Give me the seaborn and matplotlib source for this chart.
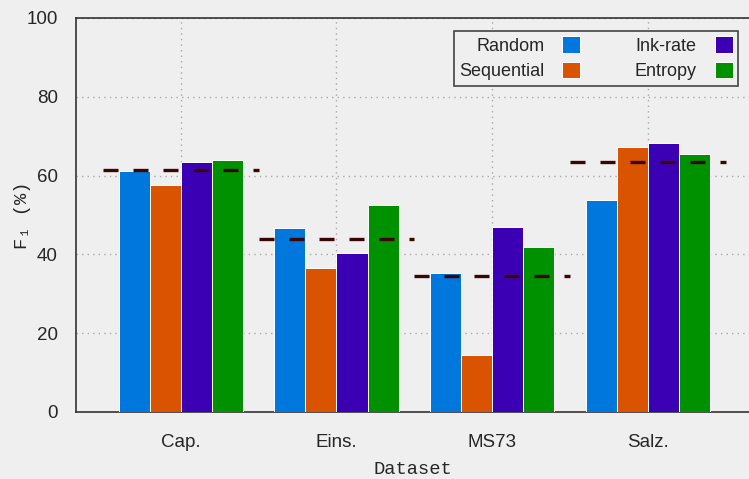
import numpy as np
import pandas as pd
import seaborn as sns
import matplotlib.pyplot as plt

datasets = ['Cap.', 'Eins.', 'MS73', 'Salz.']
methods = ['Random', 'Sequential', 'Ink-rate', 'Entropy']
random_f1 = [61.2, 46.7, 35.3, 53.8]
sequential_f1 = [57.6, 36.5, 14.5, 67.3]
inkrate_f1 = [63.5, 40.4, 47.0, 68.3]
entropy_f1 = [64.0, 52.5, 41.9, 65.5]
baseline_f1 = [61.4, 43.9, 34.5, 63.5]
colors = ['#0077dd', '#d95300', '#3c00b4', '#009100']

BG = '#efefef'

df = pd.DataFrame({
    'Dataset': datasets * 4,
    'Method': np.repeat(methods, len(datasets)),
    'F1': random_f1 + sequential_f1 + inkrate_f1 + entropy_f1,
})

sns.set_style('white')
plt.rcParams['font.family'] = ['Liberation Sans', 'DejaVu Sans']

fig = plt.figure(figsize=(7.49, 4.79), dpi=100, facecolor=BG)
ax = fig.add_axes([76 / 749, 67 / 479, 673 / 749, 394 / 479], facecolor=BG)

sns.barplot(data=df, x='Dataset', y='F1', hue='Method', palette=colors, saturation=1,
            width=0.8, edgecolor='white', linewidth=0.7, ax=ax, zorder=3)

# baseline dashes over each group
xs = np.arange(len(datasets))
ax.hlines(baseline_f1, xs - 0.5, xs + 0.5, colors='#3a0505', linewidth=2.4,
          linestyles=(0, (4.5, 4.5)), zorder=4)

ax.set_ylim(0, 100)
ax.set_xlim(-0.673, -0.673 + 673 / 155.7)
ax.set_yticks([0, 20, 40, 60, 80, 100])
ax.grid(True, axis='both', color='#a8a8a8', linestyle=(0, (1, 3)), linewidth=1, zorder=0)
ax.set_axisbelow(True)

ax.tick_params(axis='y', direction='in', length=10, width=1.2, color='#555555',
               labelsize=13.5, pad=13)
ax.tick_params(axis='x', direction='in', length=5, width=1.2, color='#555555',
               labelsize=13.5, pad=16)
for s in ['left', 'bottom', 'top']:
    ax.spines[s].set_color('#333333')
    ax.spines[s].set_linewidth(1.2)
ax.spines['right'].set_visible(False)

ax.set_xlabel('Dataset', family=['Liberation Mono', 'DejaVu Sans Mono'], fontsize=13.5, labelpad=7)
ax.set_ylabel('F₁ (%)', family=['Liberation Mono', 'DejaVu Sans Mono'], fontsize=13.5)
ax.yaxis.set_label_coords((31 - 76) / 673, 0.5)

handles, labels = ax.get_legend_handles_labels()
leg = ax.legend(handles, labels, ncol=2, markerfirst=False, loc='upper right',
                bbox_to_anchor=((738 - 76) / 673, 1 - 13 / 394),
                bbox_transform=ax.transAxes, borderaxespad=0,
                fontsize=13, frameon=True, fancybox=False, framealpha=1,
                facecolor=BG, edgecolor='#444444', handlelength=1.0, handleheight=1.0,
                columnspacing=3.0, handletextpad=1.0, borderpad=0.3, labelspacing=0.4)
leg.get_frame().set_linewidth(1.2)

fig.savefig('out.png', dpi=100, facecolor=BG)
